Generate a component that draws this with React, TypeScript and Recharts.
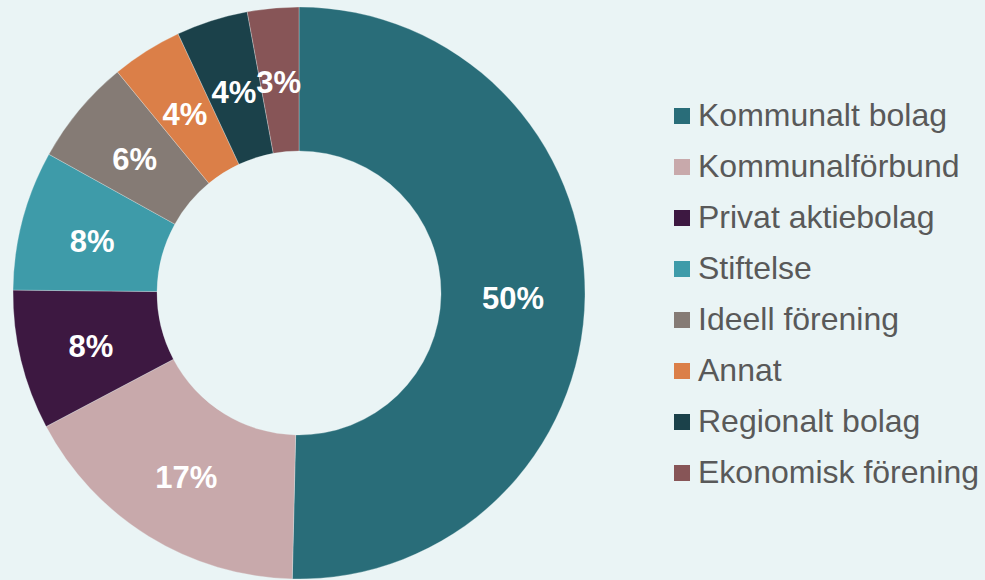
import React from 'react';
import { PieChart, Pie, Cell, Legend } from 'recharts';

const categories = [
    'Kommunalt bolag',
    'Kommunalförbund',
    'Privat aktiebolag',
    'Stiftelse',
    'Ideell förening',
    'Annat',
    'Regionalt bolag',
    'Ekonomisk förening',
];

// share of organisations, in percent
const shares = [50.4, 16.9, 7.9, 7.9, 6.0, 4.0, 4.05, 2.9];

const colors = [
    '#296D79', // Kommunalt bolag
    '#C8A9AB', // Kommunalförbund
    '#3D1841', // Privat aktiebolag
    '#3E9BA9', // Stiftelse
    '#857B75', // Ideell förening
    '#DB7F48', // Annat
    '#1B414A', // Regionalt bolag
    '#875557', // Ekonomisk förening
];

const BG = '#EAF4F5';
const FONT = '"Liberation Sans", Arial, sans-serif';
const RADIAN = Math.PI / 180;

const data = categories.map((name, i) => ({ name, value: shares[i] }));

// label sits at mid radius; tiny last slice is pushed inside its own wedge like Excel does
const renderLabel = (props: any) => {
    const { cx, cy, midAngle, innerRadius, outerRadius, percent, index } = props;
    const r = (innerRadius + outerRadius) / 2;
    let x = cx + r * Math.cos(-midAngle * RADIAN);
    const y = cy + r * Math.sin(-midAngle * RADIAN) + 3;
    let anchor: 'middle' | 'end' = 'middle';
    if (index === data.length - 1) {
        x = cx + 2;
        anchor = 'end';
    }
    return (
        <text
            x={x}
            y={y}
            fill="#ffffff"
            textAnchor={anchor}
            dominantBaseline="central"
            fontFamily={FONT}
            fontWeight="bold"
            fontSize={31}
        >
            {`${Math.round(percent * 100)}%`}
        </text>
    );
};

const renderLegend = () => (
    <div style={{ fontFamily: FONT }}>
        {data.map((entry, i) => (
            <div
                key={`legend-${i}`}
                style={{ display: 'flex', alignItems: 'center', height: 51 }}
            >
                <div style={{ width: 16, height: 16, backgroundColor: colors[i], marginRight: 8 }} />
                <span style={{ fontSize: 32, color: '#595959', lineHeight: '51px' }}>{entry.name}</span>
            </div>
        ))}
    </div>
);

export default function App() {
    return (
        <div style={{ position: 'absolute', left: 0, top: 0, width: 985, height: 580, background: BG, overflow: 'hidden' }}>
            <PieChart width={985} height={580} margin={{ top: 0, right: 0, bottom: 0, left: 0 }}>
                <Pie
                    data={data}
                    dataKey="value"
                    nameKey="name"
                    cx={299}
                    cy={293}
                    innerRadius={142}
                    outerRadius={286}
                    startAngle={90}
                    endAngle={-270}
                    stroke="#EAF4F5"
                    strokeWidth={0.3}
                    label={renderLabel}
                    labelLine={false}
                    isAnimationActive={false}
                >
                    {data.map((entry, index) => (
                        <Cell key={`cell-${index}`} fill={colors[index]} />
                    ))}
                </Pie>
                <Legend
                    content={renderLegend}
                    layout="vertical"
                    wrapperStyle={{ left: 674, top: 90, width: 311 }}
                />
            </PieChart>
        </div>
    );
}
